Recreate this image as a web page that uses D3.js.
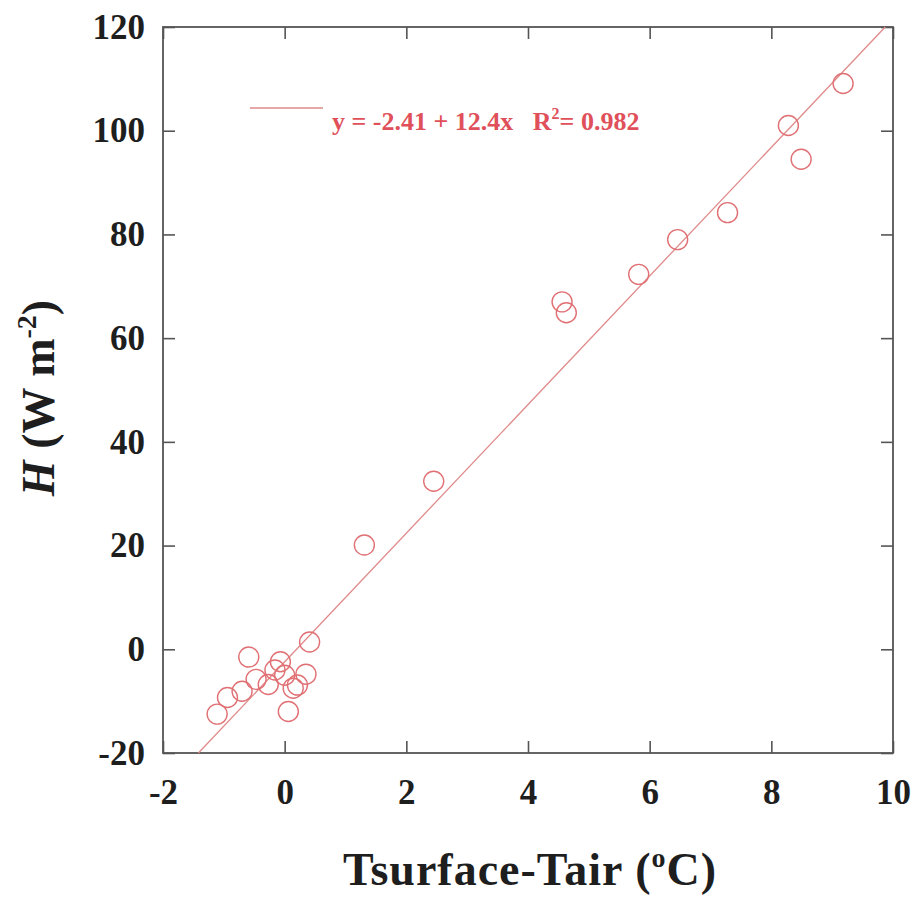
<!DOCTYPE html>
<html>
<head>
<meta charset="utf-8">
<script src="https://cdn.jsdelivr.net/npm/d3@7"></script>
<style>
  html, body { margin: 0; padding: 0; background: #fff; }
  svg { display: block; }
  text { font-family: "Liberation Serif", "Times New Roman", serif; font-weight: bold; }
</style>
</head>
<body>
<svg id="chart" width="916" height="899"></svg>
<script>
// Surface-air temperature difference vs. sensible heat flux H
const deltaT = [9.18, 8.28, 8.49, 7.28, 6.46, 5.82, 4.56, 4.63, 2.45, 1.31, 0.41,
                -0.59, -0.07, -1.11, -0.94, -0.70, -0.47, -0.27, -0.16, 0.00, 0.35, 0.14, 0.21, 0.06];
const heatFlux = [109.1, 101.0, 94.5, 84.2, 79.0, 72.3, 67.0, 64.9, 32.4, 20.1, 1.4,
                  -1.5, -2.4, -12.5, -9.3, -8.1, -5.8, -6.8, -4.0, -5.0, -4.8, -7.5, -6.9, -12.0];
const xTicks = [-2, 0, 2, 4, 6, 8, 10];
const yTicks = [-20, 0, 20, 40, 60, 80, 100, 120];
const fitIntercept = -2.41;
const fitSlope = 12.4;
const fitR2 = 0.982;

const svg = d3.select("#chart");
const x = d3.scaleLinear().domain([-2, 10]).range([163, 893]);
const y = d3.scaleLinear().domain([-20, 120]).range([753, 27]);

const frameColor = "#555";
const red = "#e0505a";
const plain = d => String(d);   // ASCII hyphen for negatives

// inward ticks on all four sides
function styleAxis(g) {
  g.select(".domain").remove();
  g.selectAll(".tick line").attr("stroke", frameColor).attr("stroke-width", 1.6);
}
function styleLabels(g) {
  g.selectAll(".tick text").attr("font-size", 35).attr("fill", "#1e1e1e")
    .attr("font-family", "Liberation Serif").attr("font-weight", "bold");
}
svg.append("g").attr("transform", `translate(0,${y(-20)})`)
  .call(d3.axisBottom(x).tickValues(xTicks).tickFormat(plain).tickSizeInner(-12).tickSizeOuter(0).tickPadding(26))
  .call(styleAxis).call(styleLabels);
svg.append("g").attr("transform", `translate(0,${y(120)})`)
  .call(d3.axisTop(x).tickValues(xTicks).tickSizeInner(-12).tickSizeOuter(0).tickFormat(""))
  .call(styleAxis);
svg.append("g").attr("transform", `translate(${x(-2)},0)`)
  .call(d3.axisLeft(y).tickValues(yTicks).tickFormat(plain).tickSizeInner(-12).tickSizeOuter(0).tickPadding(18))
  .call(styleAxis).call(styleLabels);
svg.append("g").attr("transform", `translate(${x(10)},0)`)
  .call(d3.axisRight(y).tickValues(yTicks).tickSizeInner(-12).tickSizeOuter(0).tickFormat(""))
  .call(styleAxis);

// plot frame
svg.append("rect")
  .attr("x", x(-2)).attr("y", y(120))
  .attr("width", x(10) - x(-2)).attr("height", y(-20) - y(120))
  .attr("fill", "none").attr("stroke", frameColor).attr("stroke-width", 1.8);

// regression line, clipped to the y range
const fx0 = (-20 - fitIntercept) / fitSlope;
const fx1 = (120 - fitIntercept) / fitSlope;
svg.append("line")
  .attr("x1", x(fx0)).attr("y1", y(fitIntercept + fitSlope * fx0))
  .attr("x2", x(fx1)).attr("y2", y(fitIntercept + fitSlope * fx1))
  .attr("stroke", "#e08a8a").attr("stroke-width", 1.3);

// observations
svg.append("g").selectAll("circle")
  .data(deltaT.map((d, i) => [d, heatFlux[i]]))
  .join("circle")
  .attr("cx", d => x(d[0])).attr("cy", d => y(d[1]))
  .attr("r", 10)
  .attr("fill", "none").attr("stroke", "#e07074").attr("stroke-width", 1.4);

// legend
svg.append("line").attr("x1", 250).attr("x2", 323).attr("y1", 108).attr("y2", 108)
  .attr("stroke", "#e08a8a").attr("stroke-width", 1.5);
const leg = svg.append("text").attr("x", 332).attr("y", 130)
  .attr("font-size", 26).attr("fill", red).attr("xml:space", "preserve");
leg.append("tspan").text(`y = ${fitIntercept} + ${fitSlope}x   R`);
leg.append("tspan").attr("font-size", 16).attr("dy", -11).text("2");
leg.append("tspan").attr("dy", 11).text(`= ${fitR2}`);

// axis titles
const xt = svg.append("text").attr("x", 530).attr("y", 885).attr("text-anchor", "middle")
  .attr("font-size", 46).attr("fill", "#1e1e1e").attr("letter-spacing", 1);
xt.append("tspan").text("Tsurface-Tair (");
xt.append("tspan").attr("font-size", 28).attr("dy", -18).text("o");
xt.append("tspan").attr("dy", 18).text("C)");

const yt = svg.append("text").attr("transform", "translate(54,398) rotate(-90)")
  .attr("text-anchor", "middle").attr("font-size", 46).attr("fill", "#1e1e1e");
yt.append("tspan").attr("font-style", "italic").text("H");
yt.append("tspan").text(" (W m");
yt.append("tspan").attr("font-size", 28).attr("dy", -18).text("-2");
yt.append("tspan").attr("dy", 18).text(")");
</script>
</body>
</html>
